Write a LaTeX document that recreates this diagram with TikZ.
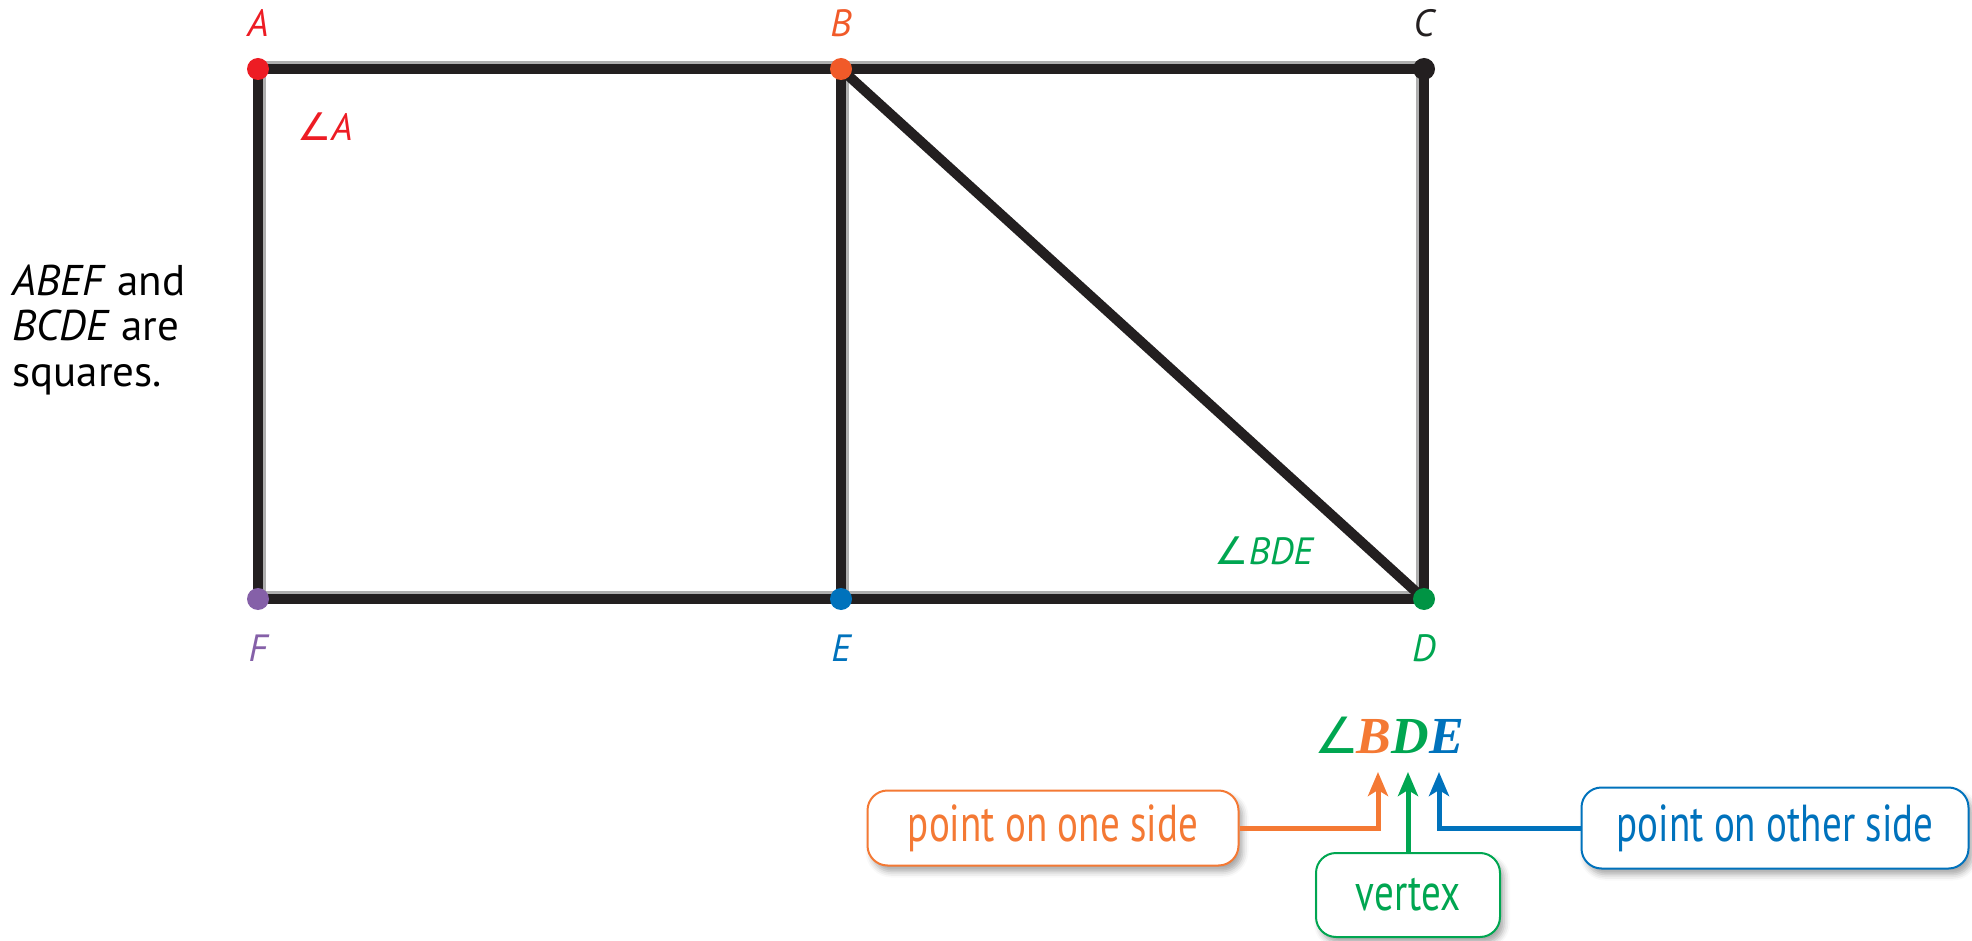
\documentclass[tikz,border=0pt]{standalone}
\usepackage{fontspec}
\setmainfont{PT Sans}
\newfontfamily\boxfont[FakeStretch=0.75]{PT Sans}
\newfontfamily\timesfont{Liberation Serif}
\newfontfamily\symfont{DejaVu Sans}
\newcommand{\angsym}{{\symfont\itshape ∠}}
\usetikzlibrary{arrows.meta,shadows.blur}
\definecolor{cred}{RGB}{237,28,36}
\definecolor{corB}{RGB}{241,90,41}
\definecolor{cor}{RGB}{244,121,52}
\definecolor{cgrn}{RGB}{0,166,81}
\definecolor{cgrnD}{RGB}{0,148,68}
\definecolor{cblu}{RGB}{0,114,188}
\definecolor{cpur}{RGB}{133,96,168}
\definecolor{cblk}{RGB}{35,31,32}
\definecolor{cshd}{RGB}{175,175,175}
\begin{document}
\begin{tikzpicture}[x=0.5pt,y=-0.5pt,
  seg/.style={line width=5pt, draw=cblk, line join=miter},
  segshd/.style={line width=5pt, draw=cshd},
  dot/.style={circle, inner sep=0pt, minimum size=11pt},
  lab/.style={font=\fontsize{19}{22}\selectfont\itshape, inner sep=0pt},
  callout/.style={draw, line width=1pt, rounded corners=10pt, fill=white, inner sep=0pt,
    font=\boxfont\fontsize{26}{30}\selectfont,
    blur shadow={shadow xshift=2pt, shadow yshift=-3pt, shadow opacity=35, shadow blur radius=3pt}},
  ptr/.style={line width=2.5pt, -{Stealth[length=12pt,width=10pt,inset=3pt]}}
]
\useasboundingbox (0,0) rectangle (1972,941);
% vertices
\coordinate (A) at (258,69);
\coordinate (B) at (841,69);
\coordinate (C) at (1424,69);
\coordinate (F) at (258,599);
\coordinate (E) at (841,599);
\coordinate (D) at (1424,599);
% misregistration shadows
\draw[segshd, transform canvas={yshift=1.5pt}] (A) -- (C);
\draw[segshd, transform canvas={yshift=1.5pt}] (F) -- (D);
\draw[segshd, transform canvas={xshift=1.5pt}] (A) -- (F);
\draw[segshd, transform canvas={xshift=1.5pt}] (B) -- (E);
\draw[segshd, transform canvas={xshift=-1.5pt}] (C) -- (D);
% sides
\draw[seg] (A) -- (C) -- (D) -- (F) -- cycle;
\draw[seg] (B) -- (E);
\draw[seg] (B) -- (D);
% dots
\node[dot, fill=cred] (dA) at (A) {};
\node[dot, fill=corB] (dB) at (B) {};
\node[dot, fill=cblk] (dC) at (C) {};
\node[dot, fill=cpur] (dF) at (F) {};
\node[dot, fill=cblu] (dE) at (E) {};
\node[dot, fill=cgrnD] (dD) at (D) {};
% labels
\node[lab, text=cred] (lA) at (258,23) {A};
\node[lab, text=corB] (lB) at (841,23) {B};
\node[lab, text=cblk] (lC) at (1424,23) {C};
\node[lab, text=cpur] (lF) at (258,648) {F};
\node[lab, text=cblu] (lE) at (841,648) {E};
\node[lab, text=cgrn] (lD) at (1424,648) {D};
\node[lab, text=cred] (angA) at (325,127) {\angsym A};
\node[lab, text=cgrn] (angBDE) at (1264,551) {\angsym BDE};
% note
\node[anchor=west, align=left, inner sep=0pt, font=\fontsize{21.5}{22.6}\selectfont] (note) at (12,330)
  {\textit{ABEF} and\\ \textit{BCDE} are\\ squares.};
% big angle name
\node[anchor=base, inner sep=0pt, font=\timesfont\bfseries\itshape\fontsize{26}{30}\selectfont] (big) at (1389,753)
  {\textcolor{cgrn}{\fontsize{25}{28}\selectfont\symfont\mdseries\upshape ∠}\kern-1pt\textcolor{cor}{B}\textcolor{cgrn}{D}\textcolor{cblu}{E}};
% callouts
\node[callout, draw=cor, text=cor, minimum width=185.5pt, minimum height=37.5pt] (one) at (1053,828) {point on one side};
\node[callout, draw=cgrn, text=cgrn, minimum width=92pt, minimum height=42pt] (vtx) at (1408,895) {vertex};
\node[callout, draw=cblu, text=cblu, minimum width=193.5pt, minimum height=40.5pt] (other) at (1775,828) {point on other side};
% pointers
\coordinate (tipO) at (1378,772);
\coordinate (tipG) at (1408,772);
\coordinate (tipB) at (1439,772);
\draw[ptr, cor] (one.east) -| (tipO);
\draw[ptr, cgrn] (vtx.north) -- (tipG);
\draw[ptr, cblu] (other.west) -| (tipB);
\end{tikzpicture}
\end{document}
